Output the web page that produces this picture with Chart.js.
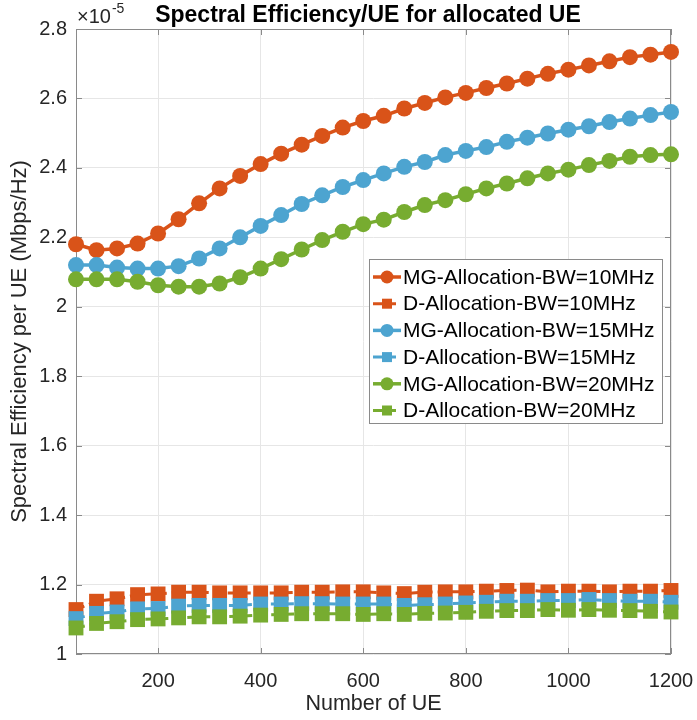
<!DOCTYPE html>
<html>
<head>
<meta charset="utf-8">
<title>Spectral Efficiency/UE for allocated UE</title>
<script src="https://cdn.jsdelivr.net/npm/chart.js@4/dist/chart.umd.min.js"></script>
<style>
  html, body { margin: 0; padding: 0; background: #fff; }
  #chart { display: block; }
</style>
</head>
<body>
<canvas id="chart" width="697" height="720"></canvas>
<script>
// Number of UE on the x axis
const ueCounts = [40, 80, 120, 160, 200, 240, 280, 320, 360, 400, 440, 480, 520, 560, 600,
                  640, 680, 720, 760, 800, 840, 880, 920, 960, 1000, 1040, 1080, 1120, 1160, 1200];

// Spectral efficiency per UE, in units of 1e-5 Mbps/Hz
const mg10 = [2.180, 2.163, 2.168, 2.182, 2.211, 2.252, 2.298, 2.341, 2.377, 2.411, 2.441, 2.467, 2.492, 2.516, 2.535,
              2.550, 2.571, 2.587, 2.603, 2.616, 2.630, 2.643, 2.657, 2.671, 2.683, 2.695, 2.707, 2.719, 2.726, 2.734];
const d10  = [1.128, 1.152, 1.159, 1.171, 1.173, 1.178, 1.178, 1.176, 1.176, 1.176, 1.176, 1.178, 1.178, 1.179, 1.179,
              1.176, 1.174, 1.178, 1.179, 1.179, 1.181, 1.183, 1.184, 1.179, 1.181, 1.181, 1.179, 1.181, 1.181, 1.183];
const mg15 = [2.120, 2.120, 2.113, 2.110, 2.110, 2.117, 2.139, 2.168, 2.200, 2.233, 2.264, 2.296, 2.321, 2.345, 2.365,
              2.384, 2.403, 2.417, 2.437, 2.449, 2.460, 2.475, 2.487, 2.499, 2.510, 2.520, 2.532, 2.542, 2.552, 2.561];
const d15  = [1.102, 1.117, 1.121, 1.130, 1.131, 1.138, 1.140, 1.140, 1.140, 1.144, 1.144, 1.145, 1.145, 1.144, 1.144,
              1.144, 1.140, 1.142, 1.144, 1.147, 1.149, 1.152, 1.152, 1.154, 1.154, 1.157, 1.154, 1.152, 1.152, 1.149];
const mg20 = [2.079, 2.079, 2.079, 2.072, 2.062, 2.058, 2.058, 2.067, 2.085, 2.110, 2.137, 2.165, 2.192, 2.216, 2.238,
              2.251, 2.273, 2.293, 2.307, 2.324, 2.341, 2.355, 2.370, 2.384, 2.395, 2.408, 2.420, 2.432, 2.437, 2.439];
const d20  = [1.075, 1.088, 1.093, 1.099, 1.101, 1.104, 1.107, 1.107, 1.109, 1.112, 1.114, 1.116, 1.116, 1.116, 1.114,
              1.116, 1.114, 1.117, 1.118, 1.120, 1.123, 1.125, 1.125, 1.128, 1.126, 1.128, 1.126, 1.125, 1.123, 1.121];

const seriesLabels = ['MG-Allocation-BW=10MHz', 'D-Allocation-BW=10MHz',
                      'MG-Allocation-BW=15MHz', 'D-Allocation-BW=15MHz',
                      'MG-Allocation-BW=20MHz', 'D-Allocation-BW=20MHz'];

const xTicks = [200, 400, 600, 800, 1000, 1200];
const yTicks = [1, 1.2, 1.4, 1.6, 1.8, 2, 2.2, 2.4, 2.6, 2.8];

const titleText = 'Spectral Efficiency/UE for allocated UE';
const xTitle = 'Number of UE';
const yTitle = 'Spectral Efficiency per UE (Mbps/Hz)';

const FONT = '"Liberation Sans", Arial, Helvetica, sans-serif';
const ORANGE = '#D95319';
const BLUE = '#4DA4D0';
const GREEN = '#77AC30';
const AXIS = '#8a8a8a';
const TEXT = '#262626';

function toPoints(values) {
    return values.map((v, i) => ({ x: ueCounts[i], y: v }));
}

function mgSeries(label, values, color, order) {
    return {
        label: label,
        data: toPoints(values),
        borderColor: color,
        backgroundColor: color,
        borderWidth: 3.5,
        pointStyle: 'circle',
        pointRadius: 8,
        pointBorderWidth: 0,
        pointBackgroundColor: color,
        tension: 0,
        clip: false,
        order: order
    };
}

function dSeries(label, values, color, order) {
    return {
        label: label,
        data: toPoints(values),
        borderColor: color,
        backgroundColor: color,
        borderWidth: 3,
        borderDash: [9, 5],
        pointStyle: 'rect',
        pointRadius: 10.5,
        pointBorderWidth: 0,
        pointBackgroundColor: color,
        tension: 0,
        clip: false,
        order: order
    };
}

// title, exponent, box with inward ticks, legend
const decorations = {
    id: 'decorations',
    beforeDatasetsDraw(chart) {
        const { ctx, chartArea: a, scales } = chart;
        ctx.save();
        ctx.strokeStyle = AXIS;
        ctx.lineWidth = 1;
        ctx.strokeRect(a.left + 0.5, a.top + 0.5, a.right - a.left - 1, a.bottom - a.top - 1);
        const tick = 6;
        ctx.beginPath();
        xTicks.forEach(v => {
            const px = Math.round(scales.x.getPixelForValue(v)) + 0.5;
            ctx.moveTo(px, a.bottom); ctx.lineTo(px, a.bottom - tick);
            ctx.moveTo(px, a.top); ctx.lineTo(px, a.top + tick);
        });
        yTicks.forEach(v => {
            const py = Math.round(scales.y.getPixelForValue(v)) + 0.5;
            ctx.moveTo(a.left, py); ctx.lineTo(a.left + tick, py);
            ctx.moveTo(a.right, py); ctx.lineTo(a.right - tick, py);
        });
        ctx.stroke();
        ctx.restore();
    },
    afterDraw(chart) {
        const { ctx } = chart;
        ctx.save();

        // title
        ctx.fillStyle = '#000';
        ctx.font = 'bold 23px ' + FONT;
        ctx.textAlign = 'center';
        ctx.textBaseline = 'alphabetic';
        ctx.fillText(titleText, 368, 22);

        // x10^-5 multiplier
        ctx.fillStyle = TEXT;
        ctx.textAlign = 'left';
        ctx.font = '20px ' + FONT;
        const base = '\u00D710';
        ctx.fillText(base, 77, 23);
        const w = ctx.measureText(base).width;
        ctx.font = '14px ' + FONT;
        ctx.fillText('-5', 77 + w + 1, 13);

        // legend
        const box = { left: 369, top: 259, right: 662, bottom: 423 };
        ctx.fillStyle = '#fff';
        ctx.fillRect(box.left, box.top, box.right - box.left, box.bottom - box.top);
        ctx.strokeStyle = AXIS;
        ctx.lineWidth = 1;
        ctx.strokeRect(box.left + 0.5, box.top + 0.5, box.right - box.left, box.bottom - box.top);

        const rowH = 26.7;
        chart.data.datasets.forEach((ds, i) => {
            const y = 277 + i * rowH;
            const color = ds.borderColor;
            ctx.strokeStyle = color;
            ctx.fillStyle = color;
            ctx.lineWidth = ds.borderWidth;
            ctx.setLineDash(ds.borderDash || []);
            ctx.beginPath();
            ctx.moveTo(373, y);
            ctx.lineTo(401, y);
            ctx.stroke();
            ctx.setLineDash([]);
            if (ds.pointStyle === 'circle') {
                ctx.beginPath();
                ctx.arc(387, y, 6.5, 0, Math.PI * 2);
                ctx.fill();
            } else {
                ctx.fillRect(382, y - 5, 10, 10);
            }
            ctx.fillStyle = '#000';
            ctx.font = '21px ' + FONT;
            ctx.textBaseline = 'middle';
            ctx.fillText(ds.label, 403, y + 1);
        });
        ctx.restore();
    }
};

new Chart(document.getElementById('chart'), {
    type: 'line',
    data: {
        datasets: [
            mgSeries(seriesLabels[0], mg10, ORANGE, 5),
            dSeries(seriesLabels[1], d10, ORANGE, 4),
            mgSeries(seriesLabels[2], mg15, BLUE, 3),
            dSeries(seriesLabels[3], d15, BLUE, 2),
            mgSeries(seriesLabels[4], mg20, GREEN, 1),
            dSeries(seriesLabels[5], d20, GREEN, 0)
        ]
    },
    options: {
        responsive: false,
        animation: false,
        layout: { padding: { top: 29, right: 26, left: 0, bottom: 0 } },
        plugins: {
            legend: { display: false },
            title: { display: false },
            tooltip: { enabled: false }
        },
        scales: {
            x: {
                type: 'linear',
                min: 40,
                max: 1200,
                afterBuildTicks: scale => { scale.ticks = xTicks.map(v => ({ value: v })); },
                afterFit: scale => {
                    scale.height = 66;
                    scale.paddingLeft = 0;
                    scale.paddingRight = 0;
                },
                grid: { color: '#e6e6e6', drawTicks: false },
                border: { display: false },
                ticks: {
                    padding: 15,
                    maxRotation: 0,
                    color: TEXT,
                    font: { family: FONT, size: 20 },
                    callback: v => String(v)
                },
                title: {
                    display: true,
                    text: xTitle,
                    color: TEXT,
                    font: { family: FONT, size: 21.5 },
                    padding: { top: 0, bottom: 3 }
                }
            },
            y: {
                type: 'linear',
                min: 1,
                max: 2.8,
                afterBuildTicks: scale => { scale.ticks = yTicks.map(v => ({ value: v })); },
                afterFit: scale => {
                    scale.width = 76;
                    scale.paddingTop = 0;
                    scale.paddingBottom = 0;
                },
                grid: { color: '#e6e6e6', drawTicks: false },
                border: { display: false },
                ticks: {
                    padding: 9,
                    color: TEXT,
                    font: { family: FONT, size: 20 },
                    callback: v => String(parseFloat(v.toFixed(1)))
                },
                title: {
                    display: true,
                    text: yTitle,
                    color: TEXT,
                    font: { family: FONT, size: 22 },
                    padding: { top: 7, bottom: 0 }
                }
            }
        }
    },
    plugins: [decorations]
});
</script>
</body>
</html>
